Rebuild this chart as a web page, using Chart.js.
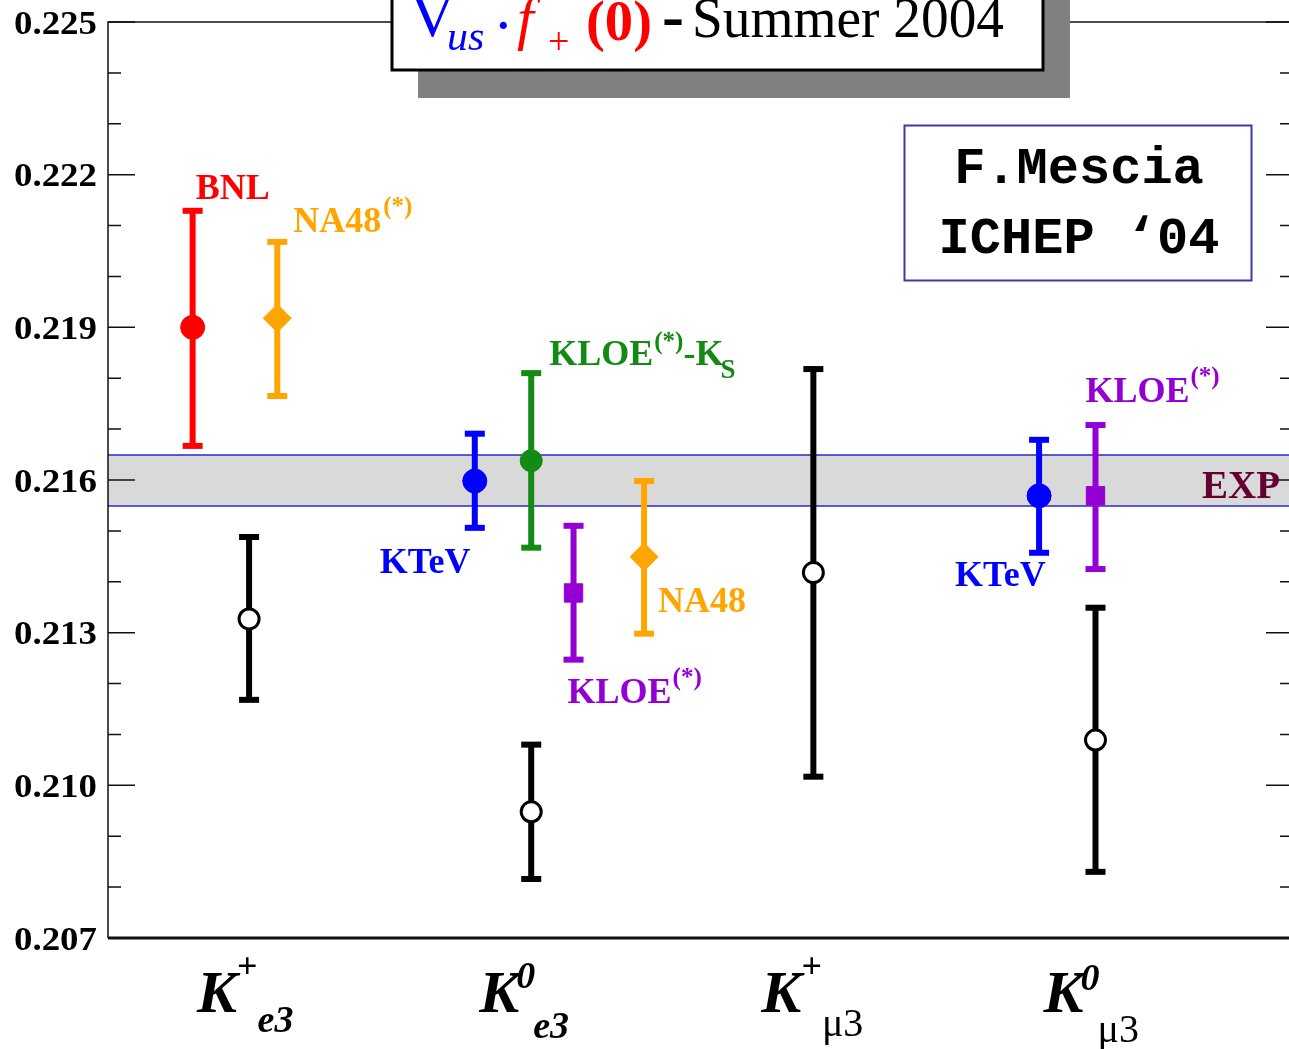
<!DOCTYPE html>
<html>
<head>
<meta charset="utf-8">
<script src="https://cdn.jsdelivr.net/npm/chart.js@4"></script>
<style>
  html, body { margin: 0; padding: 0; background: #fff; overflow: hidden; }
  #vus-chart { display: block; }
</style>
</head>
<body>
<canvas id="vus-chart" width="1293" height="1049"></canvas>
<script>
// decay channels along the x axis (1..4)
var channels = ['K+e3', 'K0e3', 'K+μ3', 'K0μ3'];

// measurements: x position, central value, error bar ends
var names   = ['BNL', 'NA48(*)', 'K+e3', 'KTeV', 'KLOE(*)-KS', 'KLOE(*)', 'NA48', 'K0e3', 'K+μ3', 'KTeV', 'KLOE(*)', 'K0μ3'];
var xPos    = [0.80, 1.10, 1.00, 1.80, 2.00, 2.15, 2.40, 2.00, 3.00, 3.80, 4.00, 4.00];
var central = [0.21900, 0.21918, 0.21327, 0.21598, 0.21638, 0.21378, 0.21449, 0.20948, 0.21418, 0.21569, 0.21569, 0.21089];
var upper   = [0.22129, 0.22068, 0.21488, 0.21691, 0.21810, 0.21510, 0.21598, 0.21080, 0.21818, 0.21679, 0.21708, 0.21349];
var lower   = [0.21667, 0.21765, 0.21168, 0.21506, 0.21467, 0.21247, 0.21298, 0.20816, 0.21017, 0.21457, 0.21425, 0.20830];

// experimental average band
var expBand = [0.21549, 0.21649];

// y axis
var yMin = 0.207, yMax = 0.225, yStep = 0.001;

var RED = '#ff0000', ORANGE = '#ffa500', BLUE = '#0000ff', GREEN = '#138a13', PURPLE = '#9400d3', BLACK = '#000000';
var colors = [RED, ORANGE, BLACK, BLUE, GREEN, PURPLE, ORANGE, BLACK, BLACK, BLUE, PURPLE, BLACK];
var shapes = ['circle', 'rectRot', 'circle', 'circle', 'circle', 'rect', 'rectRot', 'circle', 'circle', 'circle', 'rect', 'circle'];
var radii  = [12, 14, 10, 12, 11, 13, 14, 10, 10, 12, 13, 10];
var hollow = [false, false, true, false, false, false, false, true, true, false, false, true];

var SERIF = '"Liberation Serif", "DejaVu Serif", serif';

// text labels next to the points: [point index, dx, dy, color, parts]
// parts: [text, font, dx, dy]
var pointLabels = [
    [0, 3, -128, RED,    [['BNL', 'bold 36px']]],
    [1, 16, -86, ORANGE, [['NA48', 'bold 36px'], ['(*)', 'bold 25px', 2, -18]]],
    [4, 18, -96, GREEN,  [['KLOE', 'bold 36px'], ['(*)', 'bold 25px', 1, -16], ['-K', 'bold 36px', 0, 0], ['S', 'bold 27px', -3, 13]]],
    [3, -95, 92, BLUE,   [['KTeV', 'bold 36px']]],
    [6, 14, 55, ORANGE,  [['NA48', 'bold 36px']]],
    [5, -6, 110, PURPLE, [['KLOE', 'bold 36px'], ['(*)', 'bold 25px', 1, -18]]],
    [9, -84, 90, BLUE,   [['KTeV', 'bold 36px']]],
    [10, -10, -94, PURPLE, [['KLOE', 'bold 36px'], ['(*)', 'bold 25px', 1, -18]]],
];

// channel labels under the axis: K with super- and subscript
var channelParts = [
    [['+', 'bold 36px', 0, -34], ['e3', 'bold italic 38px', 0, 20]],
    [['0', 'bold italic 38px', -3, -24], ['e3', 'bold italic 38px', -2, 26]],
    [['+', 'bold 36px', 0, -34], ['μ3', '40px', 0, 24]],
    [['0', 'bold italic 38px', -3, -22], ['μ3', '40px', -2, 30]],
];

function drawParts(ctx, x, y, parts, color) {
    ctx.fillStyle = color;
    ctx.textAlign = 'left';
    ctx.textBaseline = 'alphabetic';
    var cx = x;
    parts.forEach(function (p) {
        ctx.font = p[1] + ' ' + SERIF;
        var px = cx + (p[2] || 0);
        ctx.fillText(p[0], px, y + (p[3] || 0));
        cx = px + ctx.measureText(p[0]).width;
    });
}

function stretchText(ctx, text, x, y, width, align) {
    var w = ctx.measureText(text).width;
    ctx.save();
    ctx.translate(x, y);
    ctx.scale(width / w, 1);
    ctx.textAlign = align;
    ctx.fillText(text, 0, 0);
    ctx.restore();
}

var decorPlugin = {
    id: 'decor',
    beforeDatasetsDraw: function (chart) {
        var ctx = chart.ctx, a = chart.chartArea;
        var ys = chart.scales.y, xs = chart.scales.x;
        // band
        var yt = ys.getPixelForValue(expBand[1]), yb = ys.getPixelForValue(expBand[0]);
        ctx.save();
        ctx.fillStyle = '#d9d9d9';
        ctx.fillRect(a.left, yt, a.right - a.left, yb - yt);
        ctx.strokeStyle = '#2b2bc8';
        ctx.lineWidth = 1.5;
        ctx.beginPath();
        ctx.moveTo(a.left, yt); ctx.lineTo(a.right, yt);
        ctx.moveTo(a.left, yb); ctx.lineTo(a.right, yb);
        ctx.stroke();
        // error bars
        for (var i = 0; i < central.length; i++) {
            var px = xs.getPixelForValue(xPos[i]);
            var pt = ys.getPixelForValue(upper[i]);
            var pb = ys.getPixelForValue(lower[i]);
            ctx.strokeStyle = colors[i];
            ctx.fillStyle = colors[i];
            ctx.lineWidth = 6;
            ctx.beginPath();
            ctx.moveTo(px, pt); ctx.lineTo(px, pb);
            ctx.stroke();
            ctx.fillRect(px - 10, pt - 3, 20, 6);
            ctx.fillRect(px - 10, pb - 3, 20, 6);
        }
        ctx.restore();
    },
    afterDraw: function (chart) {
        var ctx = chart.ctx, a = chart.chartArea;
        var ys = chart.scales.y, xs = chart.scales.x;
        ctx.save();

        // frame
        ctx.strokeStyle = '#111';
        ctx.lineWidth = 1.5;
        ctx.beginPath();
        ctx.moveTo(a.right, a.top); ctx.lineTo(a.left, a.top); ctx.lineTo(a.left, a.bottom);
        ctx.stroke();
        ctx.lineWidth = 3;
        ctx.beginPath();
        ctx.moveTo(a.left, a.bottom); ctx.lineTo(a.right, a.bottom);
        ctx.stroke();

        // inward ticks on left and right, labels on left
        ctx.lineWidth = 1.5;
        ys.ticks.forEach(function (t, idx) {
            var py = ys.getPixelForValue(t.value);
            var major = idx % 3 === 0;
            var len = major ? 27 : 13;
            ctx.beginPath();
            ctx.moveTo(a.left, py); ctx.lineTo(a.left + len, py);
            ctx.moveTo(a.right, py); ctx.lineTo(a.right - len, py);
            ctx.stroke();
            if (major) {
                ctx.fillStyle = '#000';
                ctx.font = 'bold 34px ' + SERIF;
                ctx.textBaseline = 'middle';
                stretchText(ctx, t.value.toFixed(3), 97, py + 3, 83, 'right');
            }
        });

        // EXP label
        ctx.fillStyle = '#660033';
        ctx.font = 'bold 39px ' + SERIF;
        ctx.textAlign = 'left';
        ctx.textBaseline = 'alphabetic';
        ctx.fillText('EXP', 1202, ys.getPixelForValue((expBand[0] + expBand[1]) / 2) + 17);

        // point labels
        pointLabels.forEach(function (l) {
            var i = l[0];
            var px = xs.getPixelForValue(xPos[i]) + l[1];
            var py = ys.getPixelForValue(central[i]) + l[2];
            drawParts(ctx, px, py, l[4], l[3]);
        });

        // channel labels
        channels.forEach(function (c, i) {
            var cx = xs.getPixelForValue(i + 1) - 52;
            var by = a.bottom + 74;
            ctx.fillStyle = '#000';
            ctx.font = 'bold italic 60px ' + SERIF;
            ctx.textAlign = 'left';
            ctx.textBaseline = 'alphabetic';
            ctx.fillText('K', cx, by);
            var kw = ctx.measureText('K').width;
            drawParts(ctx, cx + kw, by, channelParts[i], '#000');
        });

        // title box with shadow
        ctx.fillStyle = '#808080';
        ctx.fillRect(418, -10, 652, 108);
        ctx.fillStyle = '#fff';
        ctx.fillRect(392, -10, 651, 80);
        ctx.strokeStyle = '#000';
        ctx.lineWidth = 3;
        ctx.strokeRect(392, -10, 651, 80);
        ctx.textAlign = 'left';
        ctx.textBaseline = 'alphabetic';
        ctx.fillStyle = BLUE;
        ctx.font = '62px ' + SERIF;
        ctx.fillText('V', 410, 36);
        ctx.font = 'italic 42px ' + SERIF;
        ctx.fillText('us', 447, 50);
        ctx.font = 'bold 44px ' + SERIF;
        ctx.fillText('·', 496, 40);
        ctx.fillStyle = RED;
        ctx.font = 'italic 60px ' + SERIF;
        ctx.fillText('f', 517, 38);
        ctx.font = '38px ' + SERIF;
        ctx.fillText('+', 548, 54);
        ctx.font = 'bold 58px ' + SERIF;
        ctx.fillText('(0)', 586, 40, 66);
        ctx.fillStyle = '#000';
        ctx.font = 'bold 66px ' + SERIF;
        ctx.fillText('-', 662, 38, 23);
        ctx.font = '58px ' + SERIF;
        ctx.fillText('Summer 2004', 692, 37, 312);

        // author box
        ctx.fillStyle = '#fff';
        ctx.fillRect(904, 125, 348, 155);
        ctx.strokeStyle = '#3a3aa8';
        ctx.lineWidth = 2;
        ctx.strokeRect(904.5, 125.5, 347, 155);
        ctx.fillStyle = '#000';
        ctx.font = 'bold 52px "Liberation Mono", "DejaVu Sans Mono", monospace';
        ctx.textAlign = 'center';
        ctx.fillText('F.Mescia', 1079, 183);
        ctx.fillText('ICHEP ‘04', 1079, 253);

        ctx.restore();
    }
};

var points = xPos.map(function (x, i) { return { x: x, y: central[i] }; });

new Chart(document.getElementById('vus-chart'), {
    type: 'scatter',
    data: {
        datasets: [{
            label: 'Vus f+(0)',
            data: points,
            pointStyle: shapes,
            pointRadius: radii,
            pointBackgroundColor: colors.map(function (c, i) { return hollow[i] ? '#fff' : c; }),
            pointBorderColor: colors,
            pointBorderWidth: hollow.map(function (h) { return h ? 3 : 1; }),
        }],
    },
    options: {
        responsive: false,
        animation: false,
        events: [],
        layout: { autoPadding: false, padding: { top: 22, bottom: 111, left: 0, right: 0 } },
        scales: {
            x: { type: 'linear', min: 0.5, max: 4.7, display: false },
            y: {
                min: yMin, max: yMax,
                ticks: { stepSize: yStep, display: false },
                grid: { display: false },
                border: { display: false },
                afterFit: function (s) { s.width = 108; },
            },
        },
        plugins: {
            legend: { display: false },
            tooltip: { enabled: false },
        },
    },
    plugins: [decorPlugin],
});
</script>
</body>
</html>
